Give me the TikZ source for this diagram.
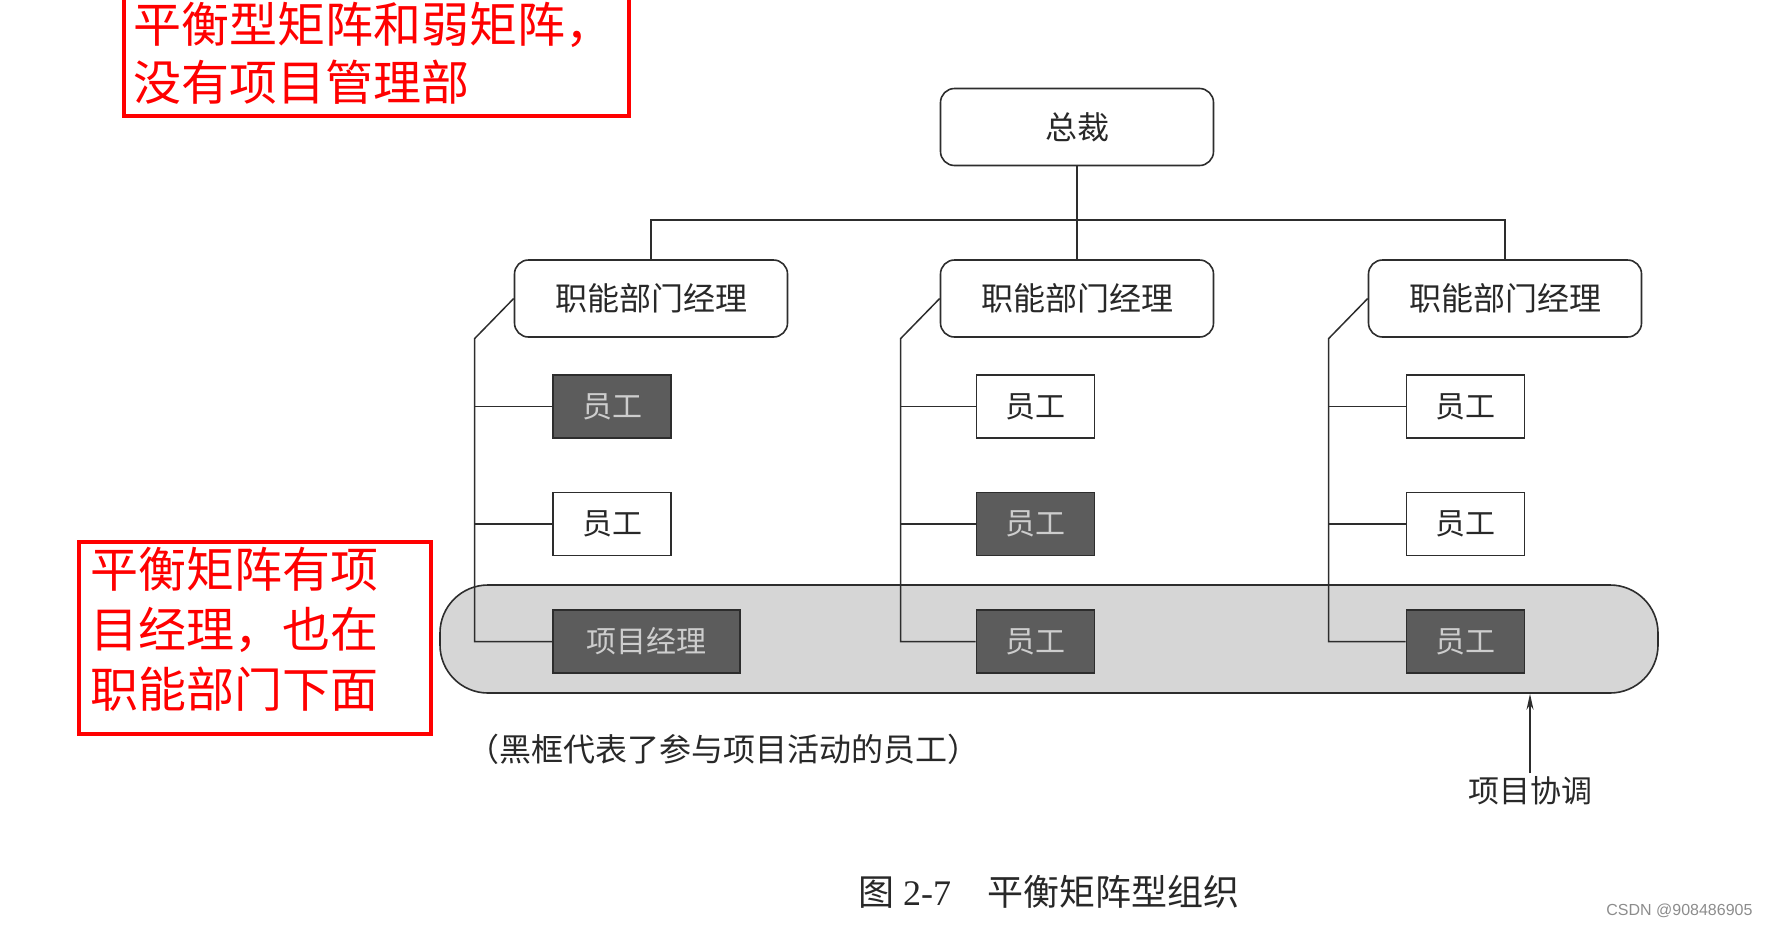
\documentclass[tikz,border=0pt]{standalone}
\usepackage{fontspec}
\setmainfont{Noto Sans CJK SC}
\newfontfamily\numfont{Liberation Serif}
\newfontfamily\markfont{Liberation Sans}
\usetikzlibrary{arrows.meta}

\definecolor{orgLineColor}{RGB}{45,45,45}
\definecolor{orgTextColor}{RGB}{40,40,40}
\definecolor{orgDarkColor}{RGB}{92,92,92}
\definecolor{orgDarkTextColor}{RGB}{205,205,205}
\definecolor{orgBandColor}{RGB}{214,214,214}
\definecolor{noteRedColor}{RGB}{255,0,0}
\definecolor{markGrayColor}{RGB}{140,140,140}

\begin{document}
\begin{tikzpicture}[x=1pt,y=-1pt]
            \tikzset{mgr/.style={draw=orgLineColor, line width=1.6pt, rounded corners=14pt, fill=white, minimum width=273pt, minimum height=77pt, text=orgTextColor, font=\fontsize{32}{38}\selectfont},
                     staff/.style={draw=orgLineColor, line width=1.6pt, fill=white, minimum width=118pt, minimum height=63pt, inner sep=0pt, text=orgTextColor, font=\fontsize{30}{36}\selectfont},
                     active/.style={staff, fill=orgDarkColor, text=orgDarkTextColor},
                     link/.style={draw=orgLineColor, line width=1.5pt},
                     note/.style={text=noteRedColor, align=left, inner sep=0pt, anchor=north west},
                     notebox/.style={draw=noteRedColor, line width=4.5pt}}

            \useasboundingbox (0,0) rectangle (1771,927);
            \clip (0,0) rectangle (1771,927);

            % red remarks
            \draw[notebox] (124,-20) rectangle (629,116);
            \node[note, font=\fontsize{48}{58}\selectfont] (noteTop) at (133,2) {平衡型矩阵和弱矩阵，\\没有项目管理部};
            \draw[notebox] (79,542) rectangle (431,734);
            \node[note, font=\fontsize{48}{60}\selectfont] (noteLeft) at (90,547) {平衡矩阵有项\\目经理，也在\\职能部门下面};

            \node[draw=orgLineColor, line width=1.6pt, rounded corners=48pt, fill=orgBandColor, minimum width=1218pt, minimum height=108pt] (band) at (1049,639) {};

            \node[mgr] (boss) at (1077,127) {总裁};
            \node[mgr] (mL) at (651,298.5) {职能部门经理};
            \node[mgr] (mM) at (1077,298.5) {职能部门经理};
            \node[mgr] (mR) at (1505,298.5) {职能部门经理};

            \coordinate (hub) at (1077,220);
            \draw[link] (boss.south) -- (mM.north);
            \draw[link] (mL.north) |- (hub) -| (mR.north);

            \node[active] (sL1) at (612,406.5) {员工};
            \node[staff] (sL2) at (612,524) {员工};
            \node[active, minimum width=187pt] (sL3) at (646.5,641.5) {项目经理};

            \node[staff] (sM1) at (1035.5,406.5) {员工};
            \node[active] (sM2) at (1035.5,524) {员工};
            \node[active] (sM3) at (1035.5,641.5) {员工};

            \node[staff] (sR1) at (1465.5,406.5) {员工};
            \node[staff] (sR2) at (1465.5,524) {员工};
            \node[active] (sR3) at (1465.5,641.5) {员工};

            \foreach \col in {L,M,R} {
                \draw[link] (m\col.west) -- ++(-39,40) coordinate (b\col) |- (s\col3.west);
                \draw[link] (b\col |- s\col1.west) -- (s\col1.west);
                \draw[link] (b\col |- s\col2.west) -- (s\col2.west);
            }

            \node[text=orgTextColor, font=\fontsize{32}{38}\selectfont] (legend) at (723,749) {（黑框代表了参与项目活动的员工）};

            \node[text=orgTextColor, font=\fontsize{31}{36}\selectfont] (coord) at (1530,791) {项目协调};
            \draw[link, -{Stealth[length=16pt, width=7pt]}] (coord.north) -- (coord.north |- band.south);

            \node[text=orgTextColor, font=\fontsize{36}{42}\selectfont] (caption) at (1049,892) {图 {\numfont 2-7}\hspace{1em}平衡矩阵型组织};

            \node[text=markGrayColor, font=\markfont\fontsize{16}{18}\selectfont, anchor=east] (mark) at (1756,911) {CSDN @908486905};
        \end{tikzpicture}
\end{document}
